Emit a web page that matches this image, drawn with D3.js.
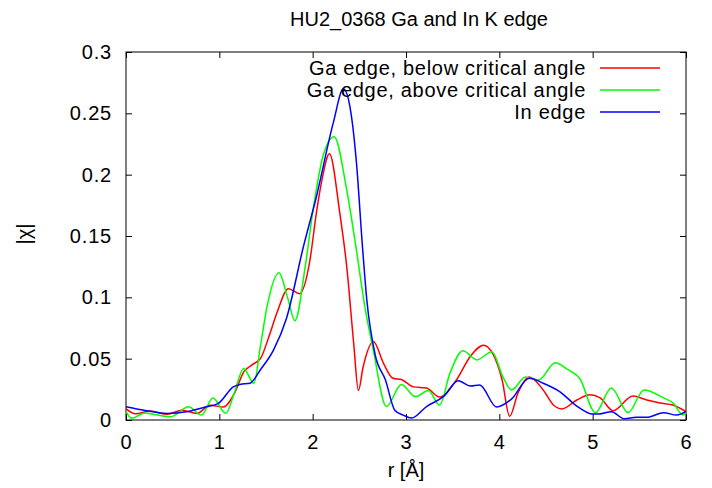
<!DOCTYPE html>
<html>
<head>
<meta charset="utf-8">
<script src="https://cdn.jsdelivr.net/npm/d3@7"></script>
<style>
  body { margin: 0; background: #fff; }
  text { font-family: "Liberation Sans", Arial, sans-serif; }
</style>
</head>
<body>
<div class="graph"></div>
<script>
// values: [r, |chi|]
const belowCritical = [
  [0, 0.009], [0.1, 0.005], [0.26, 0.0073], [0.44, 0.0046], [0.6, 0.008], [0.76, 0.0054],
  [0.9, 0.012], [1.04, 0.0106], [1.17, 0.023], [1.26, 0.039], [1.35, 0.045], [1.44, 0.05],
  [1.54, 0.07], [1.62, 0.088], [1.74, 0.107], [1.86, 0.103], [1.97, 0.13], [2.04, 0.169],
  [2.1, 0.196], [2.18, 0.217], [2.29, 0.169], [2.365, 0.125], [2.44, 0.062], [2.49, 0.024],
  [2.54, 0.043], [2.65, 0.064], [2.76, 0.046], [2.86, 0.034], [2.95, 0.033], [3.08, 0.027],
  [3.22, 0.026], [3.36, 0.0187], [3.54, 0.0326], [3.69, 0.052], [3.83, 0.061], [3.93, 0.054],
  [4.03, 0.0326], [4.11, 0.003], [4.2, 0.022], [4.32, 0.035], [4.47, 0.0245], [4.58, 0.0122],
  [4.67, 0.009], [4.83, 0.0163], [4.97, 0.0206], [5.08, 0.018], [5.22, 0.0076], [5.43, 0.0196],
  [5.58, 0.0163], [5.72, 0.0139], [5.86, 0.0122], [6.0, 0.0068]
]

const aboveCritical = [
  [0, 0.0068], [0.06, 0.0014], [0.2, 0.0057], [0.34, 0.004], [0.48, 0.0027], [0.67, 0.0108],
  [0.81, 0.004], [0.93, 0.018], [1.07, 0.0055], [1.16, 0.022], [1.26, 0.042], [1.37, 0.03],
  [1.44, 0.06], [1.51, 0.092], [1.64, 0.12], [1.73, 0.1], [1.81, 0.081], [1.92, 0.125],
  [2.0, 0.169], [2.11, 0.215], [2.23, 0.231], [2.365, 0.1875], [2.46, 0.143], [2.56, 0.092],
  [2.65, 0.057], [2.79, 0.011], [2.95, 0.029], [3.1, 0.019], [3.24, 0.024], [3.36, 0.0122],
  [3.47, 0.038], [3.61, 0.0565], [3.76, 0.049], [3.92, 0.0557], [4.04, 0.035], [4.13, 0.0245],
  [4.28, 0.035], [4.42, 0.0326], [4.6, 0.0467], [4.74, 0.0408], [4.86, 0.034], [5.03, 0.006],
  [5.2, 0.026], [5.38, 0.006], [5.55, 0.0245], [5.76, 0.018], [5.86, 0.014], [5.97, 0.004],
  [6.0, 0.006]
]

const inEdge = [
  [0, 0.0108], [0.22, 0.0076], [0.44, 0.0054], [0.65, 0.0068], [0.86, 0.0108], [0.99, 0.0136],
  [1.15, 0.027], [1.22, 0.029], [1.33, 0.030], [1.44, 0.041], [1.58, 0.057], [1.72, 0.083],
  [1.9, 0.141], [2.04, 0.182], [2.22, 0.242], [2.33, 0.27], [2.4, 0.255], [2.47, 0.209],
  [2.53, 0.145], [2.58, 0.098], [2.67, 0.053], [2.78, 0.0326], [2.88, 0.008], [2.97, 0.004],
  [3.06, 0.0016], [3.22, 0.011], [3.4, 0.019], [3.56, 0.032], [3.69, 0.0277], [3.79, 0.0285],
  [3.97, 0.0106], [4.13, 0.017], [4.32, 0.034], [4.47, 0.030], [4.65, 0.023], [4.83, 0.0114],
  [5.0, 0.0049], [5.07, 0.0049], [5.2, 0.0068], [5.34, 0.001], [5.47, 0.0022], [5.58, 0.0022],
  [5.76, 0.006], [5.9, 0.004], [6.0, 0.007]
]

const seriesNames = ["Ga edge, below critical angle", "Ga edge, above critical angle", "In edge"]
const seriesColors = ["#ff0000", "#00ff00", "#0000ff"]
const xTicks = [0, 1, 2, 3, 4, 5, 6]
const yTicks = [0, 0.05, 0.1, 0.15, 0.2, 0.25, 0.3]

const width = 712
const height = 488
const margin = ({top: 52, right: 26, bottom: 68, left: 126})

const x = d3.scaleLinear()
  .domain([0, 6])
  .range([margin.left, width - margin.right])
const y = d3.scaleLinear()
  .domain([0, 0.3])
  .range([height - margin.bottom, margin.top])

const svg = d3.select(".graph").append("svg")
  .attr("width", width)
  .attr("height", height)
  .style("display", "block")

const fontSize = 20
const tickLen = 6

// bottom axis with labels, top one mirrored without
svg.append("g")
  .attr("transform", `translate(0,${height - margin.bottom})`)
  .call(d3.axisBottom(x).tickValues(xTicks).tickFormat(d => d).tickSizeInner(-tickLen).tickSizeOuter(0).tickPadding(15))
svg.append("g")
  .attr("transform", `translate(0,${margin.top})`)
  .call(d3.axisTop(x).tickValues(xTicks).tickFormat("").tickSizeInner(-tickLen).tickSizeOuter(0))
svg.append("g")
  .attr("transform", `translate(${margin.left},0)`)
  .call(d3.axisLeft(y).tickValues(yTicks).tickFormat(d => d).tickSizeInner(-tickLen).tickSizeOuter(0).tickPadding(14))
svg.append("g")
  .attr("transform", `translate(${width - margin.right},0)`)
  .call(d3.axisRight(y).tickValues(yTicks).tickFormat("").tickSizeInner(-tickLen).tickSizeOuter(0))

svg.selectAll(".domain").remove()
svg.selectAll(".tick line").attr("stroke", "#000")
svg.selectAll(".tick text")
  .attr("fill", "#000")
  .style("font-size", fontSize + "px")
  .style("letter-spacing", "0.8px")
  .style("font-family", "'Liberation Sans', Arial, sans-serif")

// frame
svg.append("rect")
  .attr("x", x(0))
  .attr("y", y(0.3))
  .attr("width", x(6) - x(0))
  .attr("height", y(0) - y(0.3))
  .attr("fill", "none")
  .attr("stroke", "#000")

var line = d3.line()
  .x(d => x(d[0]))
  .y(d => y(d[1]))
  .curve(d3.curveMonotoneX)

const allSeries = [belowCritical, aboveCritical, inEdge]

svg.append("g")
  .selectAll("path")
  .data(allSeries)
  .join("path")
    .attr("fill", "none")
    .attr("stroke", (d, i) => seriesColors[i])
    .attr("stroke-width", 1.5)
    .attr("d", line)

// legend, top right inside the frame
const legend = svg.append("g")
seriesNames.forEach((name, i) => {
  const ly = 68 + i * 22
  legend.append("text")
    .attr("x", 586)
    .attr("y", ly)
    .attr("dy", "0.35em")
    .attr("text-anchor", "end")
    .style("font-size", fontSize + "px")
    .style("letter-spacing", "0.7px")
    .text(name)
  legend.append("line")
    .attr("x1", 600).attr("x2", 660)
    .attr("y1", ly).attr("y2", ly)
    .attr("stroke", seriesColors[i])
    .attr("stroke-width", 1.5)
})

svg.append("text")
  .attr("x", 419)
  .attr("y", 26)
  .attr("text-anchor", "middle")
  .style("font-size", fontSize + "px")
  .text("HU2_0368 Ga and In K edge")

svg.append("text")
  .attr("x", (x(0) + x(6)) / 2)
  .attr("y", 477)
  .attr("text-anchor", "middle")
  .style("font-size", fontSize + "px")
  .text("r [Å]")

svg.append("text")
  .attr("transform", "translate(31,234) rotate(-90)")
  .attr("text-anchor", "middle")
  .style("font-size", fontSize + "px")
  .text("|χ|")
</script>
</body>
</html>
